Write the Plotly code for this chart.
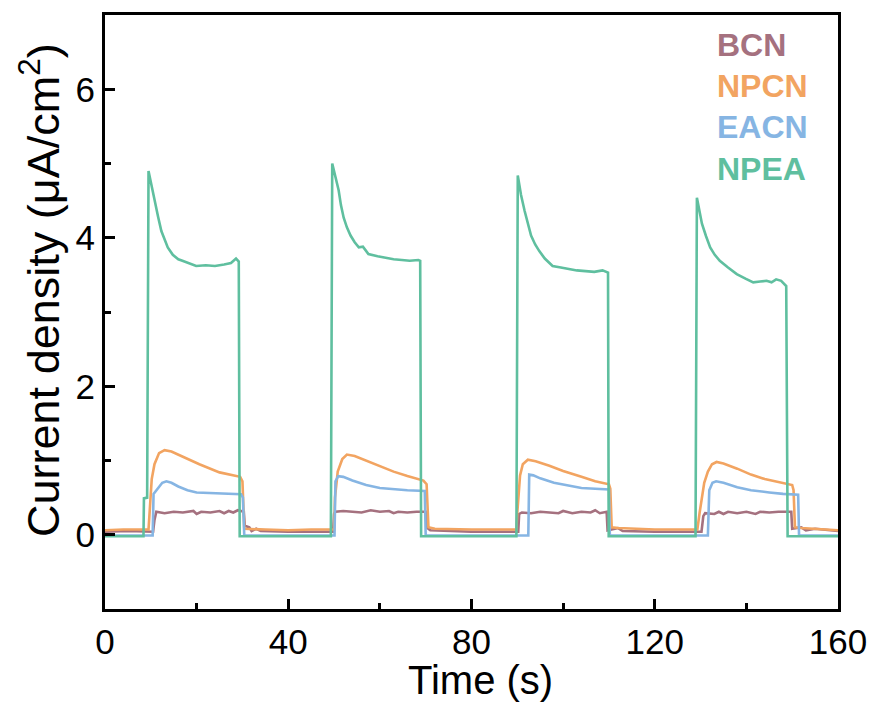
import plotly.graph_objects as go

# ---------------- data ----------------
series_names = ["BCN", "NPCN", "EACN", "NPEA"]

bcn_t = [0, 5, 10.5, 10.8, 11.2, 13, 15, 17, 19.3, 20, 21, 23, 25, 26, 27, 28, 29, 30.3, 30.5, 31.5, 32, 33, 34, 40,
         49.8, 50.0, 50.3, 52, 54, 56, 58, 60, 62, 63, 64, 66, 68, 70, 70.2, 71, 80,
         90.2, 90.4, 91, 93, 95, 97, 99, 100, 102, 104, 106, 107, 108, 109.5, 109.7, 112, 113, 120,
         130.2, 130.6, 131, 133, 134, 135, 136, 138, 140, 142, 143, 145, 147, 149.8, 150.0, 152, 153, 155, 160]
bcn_y = [0.04, 0.05, 0.04, 0.2, 0.31, 0.29, 0.31, 0.30, 0.32, 0.28, 0.31, 0.30, 0.32, 0.29, 0.32, 0.30, 0.33, 0.31, 0.12, 0.10, 0.05, 0.08, 0.05, 0.04,
         0.04, 0.28, 0.31, 0.32, 0.31, 0.30, 0.33, 0.31, 0.32, 0.29, 0.31, 0.30, 0.31, 0.31, 0.10, 0.06, 0.04,
         0.04, 0.28, 0.30, 0.29, 0.31, 0.30, 0.29, 0.32, 0.29, 0.31, 0.30, 0.33, 0.29, 0.31, 0.06, 0.09, 0.05, 0.04,
         0.04, 0.25, 0.29, 0.28, 0.31, 0.28, 0.31, 0.29, 0.31, 0.28, 0.31, 0.30, 0.31, 0.31, 0.08, 0.10, 0.06, 0.08, 0.05]

npcn_t = [0, 4, 9.5, 9.8, 10.2, 10.8, 11.8, 13.0, 14.5, 17, 20.6, 25, 28, 29.5, 30.0, 30.4, 35, 40, 45,
          50.0, 50.2, 50.8, 51.8, 52.8, 54.5, 57, 60, 63, 66, 69.5, 70.2, 70.6, 72, 80,
          89.8, 90.0, 90.6, 91.2, 92.3, 94, 97, 100, 104, 107, 110, 110.3, 110.6, 112, 120,
          129.3, 129.8, 130.8, 131.6, 132.5, 133.5, 135, 138, 141, 144, 147, 150.0, 150.3, 150.6, 152, 156, 160]
npcn_y = [0.06, 0.07, 0.07, 0.4, 0.75, 0.95, 1.10, 1.14, 1.12, 1.05, 0.95, 0.84, 0.80, 0.78, 0.72, 0.08, 0.07, 0.06, 0.07,
          0.07, 0.5, 0.85, 1.02, 1.08, 1.06, 1.00, 0.92, 0.85, 0.79, 0.73, 0.68, 0.10, 0.08, 0.07,
          0.07, 0.3, 0.80, 0.95, 1.01, 0.99, 0.93, 0.86, 0.78, 0.72, 0.68, 0.62, 0.10, 0.09, 0.07,
          0.07, 0.3, 0.70, 0.85, 0.95, 0.98, 0.96, 0.89, 0.81, 0.75, 0.71, 0.67, 0.60, 0.10, 0.09, 0.07, 0.06]

eacn_t = [0, 10.4, 10.6, 11.5, 12.5, 13.4, 14.5, 16, 18, 20, 23, 26, 29.7, 30.1, 30.4,
          50.1, 50.3, 50.9, 52, 54, 57, 60, 63, 66, 69.8, 70.0,
          92.4, 92.6, 93.5, 95, 98, 101, 104, 107, 110.0, 110.2,
          131.6, 131.9, 132.6, 133.4, 135, 138, 141, 145, 148, 151.3, 151.5, 160]
eacn_y = [-0.01, -0.01, 0.55, 0.62, 0.70, 0.72, 0.70, 0.65, 0.60, 0.57, 0.56, 0.55, 0.545, 0.50, -0.01,
          -0.01, 0.72, 0.79, 0.78, 0.73, 0.67, 0.63, 0.61, 0.60, 0.59, -0.01,
          -0.01, 0.81, 0.80, 0.76, 0.70, 0.66, 0.63, 0.62, 0.61, -0.01,
          -0.01, 0.60, 0.70, 0.72, 0.70, 0.64, 0.60, 0.57, 0.55, 0.54, -0.01, -0.01]

npea_t = [0, 8.4, 8.5, 9.2, 9.5, 10.2, 10.9, 11.6, 12.3, 13.0, 13.7, 14.8, 16.0, 16.9, 18.4, 19.9, 22, 24, 26, 27.5, 28.6, 29.2, 29.4,
          49.3, 49.6, 50.3, 51.0, 51.5, 52.1, 52.8, 53.6, 54.5, 55.4, 56.3, 57.5, 59.5, 61.2, 63, 64.8, 66.5, 68.4, 68.8, 69.0,
          89.8, 90.1, 90.8, 91.6, 92.3, 93.0, 93.9, 94.8, 96, 97.7, 99.5, 101.3, 103, 104.9, 106.8, 108.6, 109.8, 109.95,
          128.9, 129.2, 129.8, 130.3, 131.2, 132.1, 133.1, 134.2, 136, 137.9, 139.8, 141.5, 143, 144.4, 145.5, 146.5, 147.6, 148.7, 149.0, 160]
npea_y = [-0.02, -0.02, 0.49, 0.50, 4.90, 4.68, 4.50, 4.28, 4.09, 3.97, 3.87, 3.77, 3.71, 3.69, 3.65, 3.62, 3.63, 3.62, 3.64, 3.66, 3.72, 3.68, -0.02,
          -0.02, 5.00, 4.80, 4.64, 4.44, 4.27, 4.14, 4.03, 3.94, 3.87, 3.88, 3.78, 3.75, 3.73, 3.71, 3.70, 3.69, 3.70, 3.69, -0.02,
          -0.02, 4.84, 4.58, 4.36, 4.18, 4.03, 3.91, 3.82, 3.72, 3.62, 3.60, 3.58, 3.56, 3.55, 3.54, 3.56, 3.53, -0.02,
          -0.02, 4.54, 4.34, 4.19, 4.02, 3.87, 3.77, 3.69, 3.60, 3.51, 3.45, 3.40, 3.41, 3.42, 3.40, 3.44, 3.42, 3.35, -0.02, -0.02]

x_ticks = [0, 40, 80, 120, 160]
y_ticks = [0, 2, 4, 6]

colors = ["#A5717F", "#F2A461", "#86B5E3", "#5FBF9F"]
FONT = "Arial, Liberation Sans, sans-serif"

# ---------------- figure ----------------
fig = go.Figure()
data = [(bcn_t, bcn_y), (npcn_t, npcn_y), (eacn_t, eacn_y), (npea_t, npea_y)]
for name, (t, y), c in zip(series_names, data, colors):
    fig.add_trace(go.Scatter(x=t, y=y, mode="lines", name=name,
                             line=dict(color=c, width=2.6), showlegend=False))

# legend as coloured text
for i, (name, c) in enumerate(zip(series_names, colors)):
    fig.add_annotation(text="<b>%s</b>" % name, xref="paper", yref="paper",
                       x=0.832, y=0.950 - i * 0.0695, xanchor="left", yanchor="middle",
                       showarrow=False, font=dict(family=FONT, size=32, color=c))

# axis titles
fig.add_annotation(text="Time (s)", xref="paper", yref="paper", x=0.512, y=-0.119,
                   xanchor="center", yanchor="middle", showarrow=False,
                   font=dict(family=FONT, size=40, color="black"))
fig.add_annotation(text="Current density (μA/cm<sup>2</sup>)", xref="paper", yref="paper",
                   x=-0.088, y=0.538, xanchor="center", yanchor="middle", textangle=-90,
                   showarrow=False, font=dict(family=FONT, size=45, color="black"))

axis_common = dict(showline=True, linecolor="black", linewidth=3, mirror=True,
                   ticks="inside", ticklen=10, tickwidth=2.5, tickcolor="black",
                   showgrid=False, zeroline=False,
                   tickfont=dict(family=FONT, size=35, color="black"))

fig.update_xaxes(range=[0, 160], tickvals=x_ticks, ticktext=[str(v) for v in x_ticks],
                 minor=dict(dtick=20, ticks="inside", ticklen=6, tickwidth=2.5, tickcolor="black"),
                 **axis_common)
fig.update_yaxes(range=[-1, 7], tickvals=y_ticks, ticktext=[str(v) for v in y_ticks],
                 minor=dict(dtick=1, ticks="inside", ticklen=6, tickwidth=2.5, tickcolor="black"),
                 **axis_common)

fig.update_layout(width=879, height=704, margin=dict(l=105, r=35, t=13, b=95),
                  plot_bgcolor="white", paper_bgcolor="white",
                  font=dict(family=FONT, color="black"))

fig.write_html("out.html")
